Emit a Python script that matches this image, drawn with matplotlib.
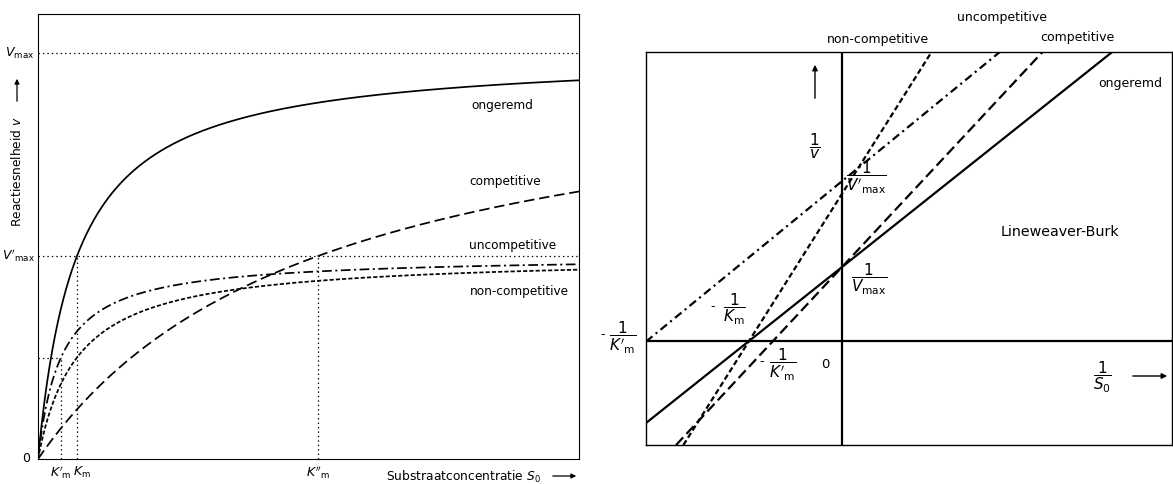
import numpy as np
import matplotlib
matplotlib.use("Agg")
import matplotlib.pyplot as plt

plt.rcParams['font.family'] = ['DejaVu Sans']
plt.rcParams['mathtext.fontset'] = 'dejavusans'
plt.rcParams['lines.scale_dashes'] = False

# ---------------- data ----------------
curve_names = ['ongeremd', 'competitive', 'uncompetitive', 'non-competitive']
# Michaelis-Menten parameters (Vmax = 1, Km = 1 units)
mm_vmax = [1.0, 1.0, 0.5, 0.5]
mm_km = [1.0, 7.18, 0.59, 1.0]
# Lineweaver-Burk intercepts (-1/Km and 1/Vmax)
lb_x_intercepts = [-1.0, -0.742, -2.1, -1.0]
lb_y_intercepts = [1.0, 1.0, 2.16, 1.99]

W, H = 1173, 484
fig = plt.figure(figsize=(W / 100, H / 100), dpi=100)


def fx(px):
    return px / W


def fy(py):
    return 1 - py / H


styles = [
    dict(linestyle='-'),
    dict(linestyle=(0, (7.5, 3.5))),
    dict(linestyle=(0, (7, 2.5, 1.5, 2.5))),
    dict(linestyle=(0, (3, 1.5))),
]

# ---------------- left panel ----------------
axL = fig.add_axes([fx(38), fy(459), fx(579) - fx(38), fy(14) - fy(459)])
xmaxL = 541 / 39
axL.set_xlim(0, xmaxL)
axL.set_ylim(0, 445 / 406)
S = np.linspace(0, xmaxL, 600)
for vm, km, st in zip(mm_vmax, mm_km, styles):
    axL.plot(S, vm * S / (km + S), color='black', lw=1.25, **st)

dot = dict(color='black', lw=0.9, linestyle=(0, (1, 2.2)))
vmax0, vmaxp = mm_vmax[0], mm_vmax[2]
axL.axhline(vmax0, **dot)
axL.axhline(vmaxp, **dot)
axL.plot([0, mm_km[2]], [vmaxp / 2, vmaxp / 2], **dot)
axL.plot([mm_km[2], mm_km[2]], [0, vmaxp / 2], **dot)
axL.plot([mm_km[0], mm_km[0]], [0, vmaxp], **dot)
axL.plot([mm_km[1], mm_km[1]], [0, vmaxp], **dot)
axL.set_xticks([])
axL.set_yticks([])
for sp in axL.spines.values():
    sp.set_linewidth(0.8)

ytr = axL.get_yaxis_transform()
xtr = axL.get_xaxis_transform()
axL.text(-0.006, vmax0, r'$V_\mathrm{max}$', transform=ytr, ha='right', va='center', fontsize=9)
axL.text(-0.006, vmaxp, r"$V'_\mathrm{max}$", transform=ytr, ha='right', va='center', fontsize=9)
axL.text(-0.015, 0, '0', transform=ytr, ha='right', va='center', fontsize=9)
axL.text(mm_km[2], -0.03, r"$K'_\mathrm{m}$", transform=xtr, ha='center', va='center', fontsize=9)
axL.text(mm_km[0] + 0.12, -0.03, r"$K_\mathrm{m}$", transform=xtr, ha='center', va='center', fontsize=9)
axL.text(mm_km[1], -0.03, r"$K''_\mathrm{m}$", transform=xtr, ha='center', va='center', fontsize=9)

for name, (px, py) in zip(curve_names, [(502, 105), (505, 182), (513, 246), (519, 291)]):
    fig.text(fx(px), fy(py), name, ha='center', va='center', fontsize=8.7)

fig.text(fx(17), fy(172), r'Reactiesnelheid $v$', rotation=90, ha='center', va='center', fontsize=8.8)
fig.add_artist(matplotlib.patches.FancyArrowPatch(
    (fx(17), fy(104)), (fx(17), fy(76)), transform=fig.transFigure,
    arrowstyle='-|>', mutation_scale=7, color='black', lw=0.9))
fig.text(fx(386), fy(477), r'Substraatconcentratie $S_0$', ha='left', va='center', fontsize=8.8)
fig.add_artist(matplotlib.patches.FancyArrowPatch(
    (fx(550), fy(476)), (fx(579), fy(476)), transform=fig.transFigure,
    arrowstyle='-|>', mutation_scale=7, color='black', lw=0.9))

# ---------------- right panel ----------------
axR = fig.add_axes([fx(646), fy(445), fx(1172) - fx(646), fy(52) - fy(445)])
axR.set_xlim(-2.108, 3.548)
axR.set_ylim(-1.405, 3.905)
axR.axhline(0, color='black', lw=1.6)
axR.axvline(0, color='black', lw=1.6)
rstyles = [
    dict(linestyle='-'),
    dict(linestyle=(0, (7.5, 3.5))),
    dict(linestyle=(0, (6, 3, 1.5, 3))),
    dict(linestyle=(0, (4, 2.2))),
]
for x0, y0, st in zip(lb_x_intercepts, lb_y_intercepts, rstyles):
    axR.axline((x0, 0), (0, y0), color='black', lw=1.6, **st)
axR.set_xticks([])
axR.set_yticks([])
for sp in axR.spines.values():
    sp.set_linewidth(1.0)

fig.text(fx(1002), fy(18), 'uncompetitive', ha='center', va='center', fontsize=9)
fig.text(fx(878), fy(40), 'non-competitive', ha='center', va='center', fontsize=9)
fig.text(fx(1077), fy(38), 'competitive', ha='center', va='center', fontsize=9)
fig.text(fx(1130), fy(83), 'ongeremd', ha='center', va='center', fontsize=9)
fig.text(fx(1060), fy(232), 'Lineweaver-Burk', ha='center', va='center', fontsize=10.3)

frac = dict(ha='center', va='center', fontsize=11)
fig.text(fx(815), fy(146), r'$\dfrac{1}{v}$', **frac)
fig.text(fx(866), fy(178), r"$\dfrac{1}{V'_\mathrm{max}}$", **frac)
fig.text(fx(869), fy(279), r'$\dfrac{1}{V_\mathrm{max}}$', **frac)
fig.text(fx(1102), fy(377), r'$\dfrac{1}{S_0}$', **frac)
fig.text(fx(825), fy(365), '0', ha='center', va='center', fontsize=9.5)
fig.text(fx(734), fy(309), r'$\dfrac{1}{K_\mathrm{m}}$', **frac)
fig.text(fx(713), fy(307), '-', ha='center', va='center', fontsize=9)
fig.text(fx(783), fy(365), r"$\dfrac{1}{K'_\mathrm{m}}$", **frac)
fig.text(fx(762), fy(362), '-', ha='center', va='center', fontsize=9)
fig.text(fx(623), fy(338), r"$\dfrac{1}{K'_\mathrm{m}}$", **frac)
fig.text(fx(603), fy(335), '-', ha='center', va='center', fontsize=9)

fig.add_artist(matplotlib.patches.FancyArrowPatch(
    (fx(815), fy(101)), (fx(815), fy(62)), transform=fig.transFigure,
    arrowstyle='-|>', mutation_scale=8, color='black', lw=1.0))
fig.add_artist(matplotlib.patches.FancyArrowPatch(
    (fx(1130), fy(376)), (fx(1170), fy(376)), transform=fig.transFigure,
    arrowstyle='-|>', mutation_scale=8, color='black', lw=1.0))

fig.savefig('out.png', dpi=100)
